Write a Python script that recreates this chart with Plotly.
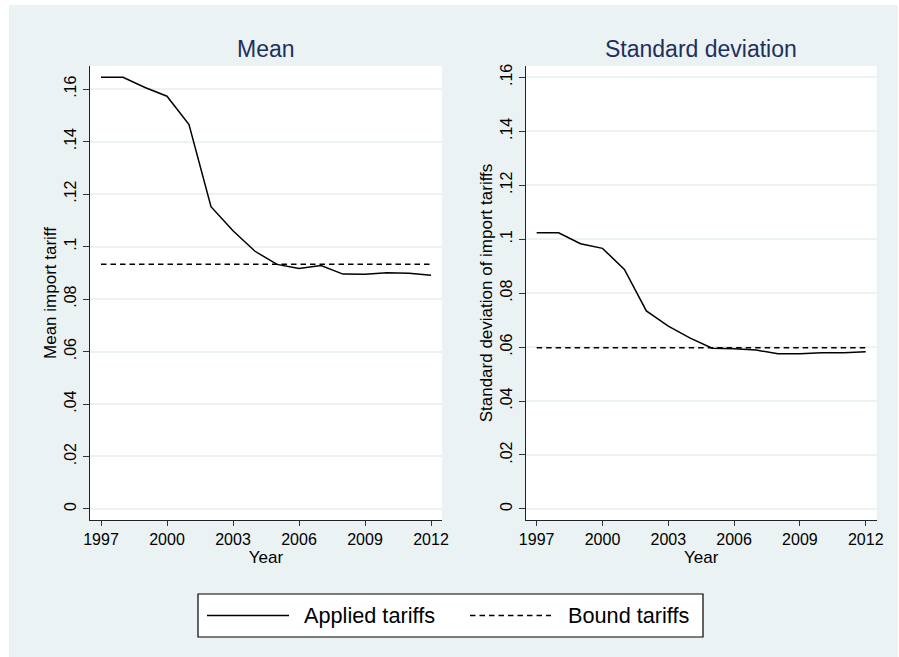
import plotly.graph_objects as go

# ---------------- data ----------------
years = list(range(1997, 2013))
mean_applied = [0.1645, 0.1645, 0.1606, 0.1573, 0.1465, 0.1152, 0.1060, 0.0982,
                0.0932, 0.0916, 0.0928, 0.0895, 0.0894, 0.0900, 0.0898, 0.0891]
mean_bound = [0.0933] * len(years)
sd_applied = [0.1024, 0.1024, 0.0983, 0.0966, 0.0888, 0.0734, 0.0678, 0.0633,
              0.0596, 0.0594, 0.0589, 0.0575, 0.0575, 0.0579, 0.0579, 0.0583]
sd_bound = [0.0598] * len(years)

panel_titles = ["Mean", "Standard deviation"]
y_titles = ["Mean import tariff", "Standard deviation of import tariffs"]
x_title = "Year"
legend_labels = ["Applied tariffs", "Bound tariffs"]
x_tickvals = [1997, 2000, 2003, 2006, 2009, 2012]
y_tickvals = [0, 0.02, 0.04, 0.06, 0.08, 0.10, 0.12, 0.14, 0.16]
y_ticktext = ["0", ".02", ".04", ".06", ".08", ".1", ".12", ".14", ".16"]

# ---------------- style ----------------
W, H = 899, 657
BG = "#EAF2F3"
TITLE_COL = "#1F2F5C"
FONT = "Liberation Sans, Arial, sans-serif"
DASH = "5.5px,4px"
LW = 1.5


def px(x):
    return x / W


def py(y):
    return 1 - y / H


fig = go.Figure()

fig.add_trace(go.Scatter(x=years, y=mean_applied, mode="lines",
                         line=dict(color="black", width=LW),
                         xaxis="x", yaxis="y", showlegend=False))
fig.add_trace(go.Scatter(x=years, y=mean_bound, mode="lines",
                         line=dict(color="black", width=LW, dash=DASH),
                         xaxis="x", yaxis="y", showlegend=False))
fig.add_trace(go.Scatter(x=years, y=sd_applied, mode="lines",
                         line=dict(color="black", width=LW),
                         xaxis="x2", yaxis="y2", showlegend=False))
fig.add_trace(go.Scatter(x=years, y=sd_bound, mode="lines",
                         line=dict(color="black", width=LW, dash=DASH),
                         xaxis="x2", yaxis="y2", showlegend=False))

xcommon = dict(range=[1996.5, 2012.5], tickvals=x_tickvals,
               ticks="outside", ticklen=5, tickwidth=1, tickcolor="#333",
               showline=True, linecolor="#222", linewidth=1.3,
               showgrid=False, zeroline=False, automargin=False,
               tickfont=dict(family=FONT, size=16, color="black"),
               title=dict(text=x_title, standoff=2,
                          font=dict(family=FONT, size=17, color="black")))
ycommon = dict(tickvals=y_tickvals, ticktext=y_ticktext, tickangle=-90,
               ticks="outside", ticklen=6, tickwidth=1, tickcolor="#333",
               showline=True, linecolor="#222", linewidth=1.3,
               showgrid=True, gridcolor=BG, gridwidth=1.5,
               zeroline=False, automargin=False,
               tickfont=dict(family=FONT, size=16, color="black"))

dom_y = [py(520), py(66)]
fig.update_layout(
    width=W, height=H,
    margin=dict(l=0, r=0, t=0, b=0),
    paper_bgcolor=BG, plot_bgcolor="white",
    showlegend=False,
    xaxis=dict(domain=[px(90), px(442)], anchor="y", **xcommon),
    yaxis=dict(domain=dom_y, anchor="x", range=[-0.0042, 0.1688],
               title=dict(text=y_titles[0], standoff=1,
                          font=dict(family=FONT, size=17, color="black")),
               **ycommon),
    xaxis2=dict(domain=[px(525.7), px(876.7)], anchor="y2", **xcommon),
    yaxis2=dict(domain=dom_y, anchor="x2", range=[-0.0041, 0.1642],
                title=dict(text=y_titles[1], standoff=1,
                           font=dict(family=FONT, size=17, color="black")),
                **ycommon),
)

# white outer edges (top, left and right strips)
fig.add_shape(type="rect", xref="paper", yref="paper", x0=0, x1=1, y0=py(5), y1=1,
              fillcolor="white", line_width=0, layer="below")
fig.add_shape(type="rect", xref="paper", yref="paper", x0=0, x1=px(9), y0=0, y1=1,
              fillcolor="white", line_width=0, layer="below")
fig.add_shape(type="rect", xref="paper", yref="paper", x0=px(898), x1=1, y0=0, y1=1,
              fillcolor="white", line_width=0, layer="below")

# panel titles
for cx, t in zip([266, 701], panel_titles):
    fig.add_annotation(x=px(cx), y=py(49), xref="paper", yref="paper", text=t,
                       showarrow=False, xanchor="center", yanchor="middle",
                       font=dict(family=FONT, size=23, color=TITLE_COL))

# legend (drawn manually)
fig.add_shape(type="rect", xref="paper", yref="paper",
              x0=px(198), x1=px(703), y0=py(637), y1=py(594),
              fillcolor="white", line=dict(color="black", width=1.2))
ly = py(615.5)
fig.add_shape(type="line", xref="paper", yref="paper", x0=px(207), x1=px(289),
              y0=ly, y1=ly, line=dict(color="black", width=LW))
fig.add_shape(type="line", xref="paper", yref="paper", x0=px(470), x1=px(551),
              y0=ly, y1=ly, line=dict(color="black", width=LW, dash=DASH))
for lx, t in zip([302, 566], legend_labels):
    fig.add_annotation(x=px(lx), y=ly, xref="paper", yref="paper", text=t,
                       showarrow=False, xanchor="left", yanchor="middle",
                       font=dict(family=FONT, size=21.7, color="black"))

fig.write_html("out.html")
